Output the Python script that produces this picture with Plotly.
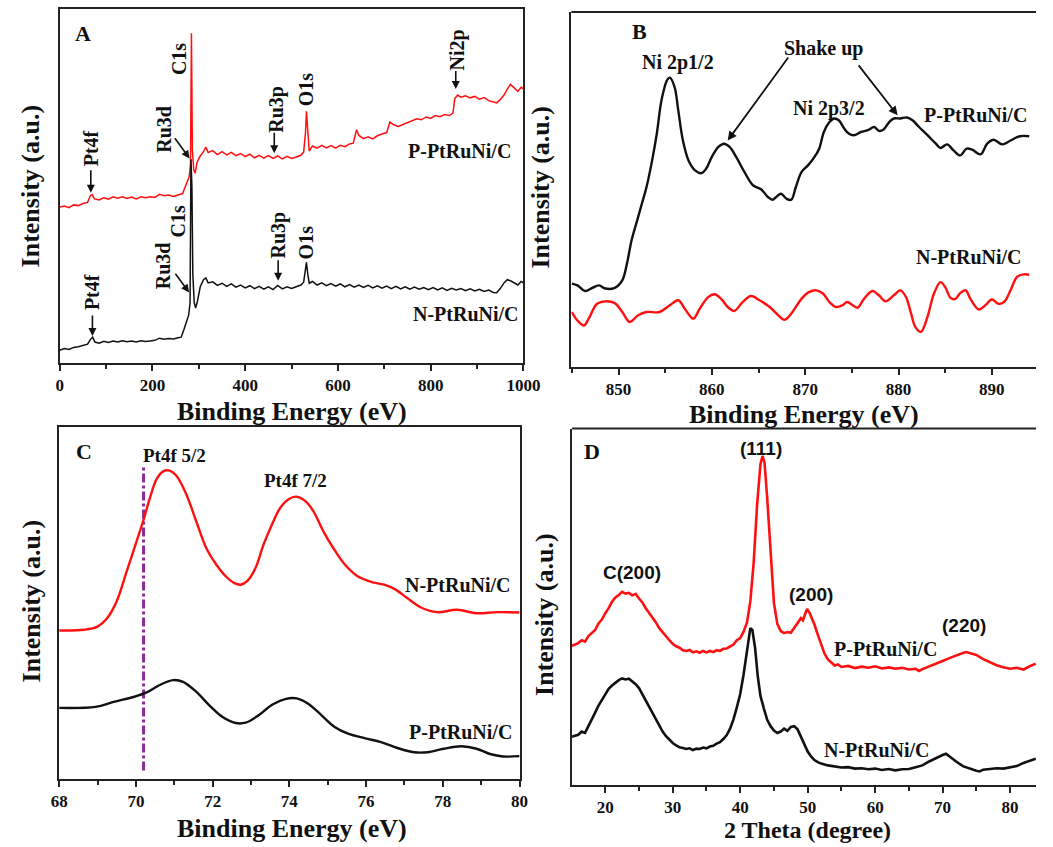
import plotly.graph_objects as go

# ---------------- Panel A : XPS survey ----------------
a_x_p = [0, 10, 20, 30, 40, 50, 60, 66, 70, 75, 85, 95, 105, 115, 125, 135, 145, 155, 165, 175, 185, 195,
         205, 215, 225, 235, 245, 255, 265, 270, 275, 279, 282, 284, 286, 289, 292, 296, 302, 310, 315, 320,
         330, 340, 350, 360, 370, 380, 390, 400, 410, 420, 430, 440, 450, 460, 470, 480, 490, 500, 510, 520,
         526, 530, 532, 535, 538, 545, 555, 565, 575, 585, 595, 605, 615, 625, 633, 640, 645, 655, 665, 675,
         685, 695, 705, 712, 720, 730, 740, 750, 760, 770, 780, 790, 800, 810, 820, 830, 840, 848, 852, 858,
         865, 875, 885, 895, 905, 915, 925, 935, 942, 950, 958, 965, 972, 980, 988, 995, 1000]
a_y_p = [44.0, 44.3, 43.8, 44.6, 44.4, 45.0, 45.3, 47.2, 47.5, 46.3, 46.0, 46.6, 46.2, 46.9, 46.5, 46.9, 46.4,
         46.8, 46.3, 46.9, 46.6, 46.9, 46.7, 47.6, 47.2, 47.4, 47.0, 47.5, 47.8, 49.5, 51.0, 52.5, 56.0, 93.0,
         60.0, 54.5, 53.5, 56.5, 58.2, 59.6, 60.9, 59.4, 59.9, 58.8, 59.6, 58.7, 59.4, 58.5, 59.1, 58.2, 58.9,
         57.9, 58.6, 57.8, 58.5, 57.7, 58.4, 57.6, 58.3, 57.7, 58.1, 58.6, 59.5, 65.0, 71.0, 64.0, 59.8, 61.2,
         60.6, 61.4, 60.7, 61.3, 60.6, 61.4, 61.0, 61.8, 62.0, 65.8, 64.2, 63.3, 63.8, 63.2, 64.1, 64.6, 65.0,
         68.0, 67.2, 66.7, 67.3, 67.8, 68.4, 68.9, 68.6, 69.4, 69.0, 69.8, 69.5, 70.1, 69.8, 70.5, 74.6, 75.6,
         75.0, 75.4, 74.8, 75.2, 74.4, 74.9, 74.0, 73.6, 73.4, 74.3, 75.6, 77.2, 78.6, 77.6, 76.6, 77.8, 77.3]
a_x_n = [0, 10, 20, 30, 40, 50, 60, 66, 71, 76, 85, 95, 105, 115, 125, 135, 145, 155, 165, 175, 185, 195,
         205, 215, 225, 235, 245, 255, 262, 268, 273, 278, 281, 283, 285, 287, 290, 293, 297, 303, 310, 315,
         320, 330, 340, 350, 360, 370, 380, 390, 400, 410, 420, 430, 440, 450, 460, 470, 480, 490, 500, 510,
         520, 526, 530, 532, 535, 538, 545, 555, 565, 575, 585, 595, 605, 615, 625, 635, 645, 655, 665, 675,
         685, 695, 705, 715, 725, 735, 745, 755, 765, 775, 785, 795, 805, 815, 825, 835, 845, 855, 865, 875,
         885, 895, 905, 915, 925, 935, 942, 950, 958, 965, 972, 980, 988, 995, 1000]
a_y_n = [3.6, 4.1, 3.8, 4.4, 4.6, 4.9, 5.3, 6.6, 7.3, 5.9, 5.6, 6.1, 5.8, 6.2, 5.9, 6.3, 6.0, 6.2, 5.9, 6.3,
         6.1, 6.2, 6.4, 7.0, 6.7, 6.9, 6.8, 7.1, 7.3, 9.5, 11.5, 13.5, 17.0, 57.5, 50.0, 25.0, 17.0, 15.5,
         17.5, 21.5, 23.5, 24.0, 22.6, 22.9, 21.9, 22.5, 21.6, 22.3, 21.4, 22.0, 21.2, 21.8, 21.0, 21.6, 20.8,
         21.5, 20.7, 21.9, 20.9, 21.5, 21.0, 21.6, 22.0, 22.8, 26.0, 28.4, 25.0, 22.5, 23.0, 22.0, 22.6, 21.8,
         22.4, 21.7, 22.3, 21.5, 22.1, 21.4, 22.0, 21.3, 21.9, 21.2, 21.8, 21.1, 21.7, 21.0, 21.6, 20.9, 21.5,
         20.8, 21.4, 20.8, 21.3, 20.7, 21.3, 20.6, 21.2, 20.5, 21.1, 20.6, 21.0, 20.4, 20.9, 20.3, 20.8, 20.2,
         20.6, 19.9, 19.8, 21.0, 22.6, 23.5, 23.2, 22.5, 22.0, 23.0, 22.6]

# ---------------- Panel B : Ni 2p ----------------
b_x_p = [845, 845.6, 846.4, 847.2, 847.9, 848.6, 849.6, 850.4, 850.9, 851.4, 852.0, 852.5, 853.0, 853.6,
         854.1, 854.6, 855.2, 855.5, 856.0, 856.4, 856.9, 857.5, 858.2, 858.9, 859.4, 860.0, 860.7, 861.3,
         861.9, 862.6, 863.5, 864.4, 865.3, 866.0, 866.5, 866.9, 867.4, 868.0, 868.5, 869.0, 869.6, 870.3,
         871.0, 871.5, 872.0, 872.6, 873.1, 873.6, 874.2, 874.7, 875.2, 876.0, 876.7, 877.4, 877.9, 878.4,
         879.0, 879.5, 880.2, 880.9, 881.5, 882.2, 883.1, 884.0, 884.5, 885.2, 885.9, 886.6, 887.3, 887.9,
         888.8, 889.5, 890.2, 891.1, 892.0, 893.0, 894.0]
b_y_p = [23.5, 23.0, 21.4, 22.3, 23.0, 22.1, 22.3, 24.4, 29.1, 35.7, 41.3, 46.0, 50.7, 58.2, 65.7, 75.1,
         80.8, 81.5, 78.9, 72.3, 63.8, 58.2, 55.4, 54.6, 55.9, 59.2, 62.0, 62.9, 62.0, 59.2, 54.9, 51.2, 50.0,
         47.9, 47.1, 47.9, 48.8, 47.4, 47.1, 50.7, 54.9, 56.8, 59.2, 61.5, 66.2, 69.0, 70.0, 69.5, 67.1, 65.7,
         65.3, 66.2, 66.7, 67.6, 66.5, 66.9, 69.0, 70.0, 70.0, 70.3, 69.5, 67.6, 65.3, 62.9, 61.7, 62.7, 61.0,
         59.6, 61.5, 61.2, 59.9, 62.9, 64.0, 62.7, 63.8, 65.0, 65.0]
b_x_n = [845, 845.6, 846.3, 846.8, 847.7, 848.6, 849.6, 850.4, 851.2, 852.1, 853.0, 854.4, 855.5, 856.4,
         857.1, 858.0, 858.7, 859.6, 860.3, 861.0, 861.7, 862.4, 863.3, 864.2, 865.1, 866.2, 867.1, 867.8,
         868.5, 869.6, 870.4, 871.2, 871.9, 872.6, 873.3, 874.0, 874.5, 875.1, 875.6, 876.3, 877.2, 877.9,
         878.6, 879.5, 880.2, 880.8, 881.3, 881.8, 882.4, 883.1, 883.8, 884.5, 885.0, 885.6, 886.1, 886.6,
         887.2, 887.7, 888.6, 889.3, 890.0, 890.7, 891.3, 892.0, 892.7, 893.4, 894.0]
b_y_n = [15.5, 13.1, 11.7, 13.6, 17.8, 18.5, 18.0, 15.5, 12.7, 14.6, 15.5, 15.5, 17.4, 18.8, 16.4, 13.6,
         16.4, 19.7, 20.5, 19.2, 16.9, 15.8, 18.3, 20.0, 18.8, 16.9, 14.6, 13.3, 15.0, 19.2, 21.1, 21.6, 20.7,
         18.3, 16.9, 17.4, 18.3, 17.4, 16.7, 19.2, 21.4, 20.2, 18.5, 20.2, 21.6, 19.7, 15.5, 11.3, 9.9, 14.1,
         20.7, 23.9, 22.5, 19.4, 19.2, 20.8, 21.6, 19.2, 16.2, 17.4, 19.0, 17.8, 18.3, 21.6, 25.4, 26.1, 26.0]

# ---------------- Panel C : Pt 4f ----------------
c_x_n = [68.0, 68.65, 69.0, 69.25, 69.5, 69.76, 70.02, 70.19, 70.37, 70.54, 70.71, 70.88, 71.05, 71.31,
         71.57, 71.83, 72.09, 72.34, 72.56, 72.73, 72.9, 73.12, 73.33, 73.55, 73.76, 73.98, 74.19, 74.41,
         74.62, 74.88, 75.14, 75.44, 75.78, 76.13, 76.47, 76.77, 77.07, 77.42, 77.85, 78.37, 78.88, 79.4, 80.0]
c_y_n = [42.2, 42.4, 43.3, 45.7, 50.5, 59.0, 67.6, 73.3, 80.0, 85.2, 87.4, 87.6, 86.2, 81.0, 73.3, 65.7,
         61.0, 57.6, 55.7, 55.2, 56.2, 60.0, 66.7, 72.4, 77.0, 79.5, 80.2, 79.0, 76.2, 70.5, 65.7, 61.0, 57.6,
         56.0, 55.2, 53.8, 51.4, 48.8, 47.4, 48.1, 47.1, 47.4, 47.3]
c_x_p = [68.0, 68.95, 69.42, 69.94, 70.28, 70.62, 70.97, 71.23, 71.57, 71.91, 72.26, 72.6, 72.86, 73.2,
         73.55, 73.89, 74.19, 74.49, 74.84, 75.18, 75.53, 75.96, 76.39, 76.82, 77.25, 77.6, 78.02, 78.49,
         78.88, 79.23, 79.57, 80.0]
c_y_p = [20.2, 20.5, 21.9, 23.3, 24.6, 26.7, 28.1, 27.6, 24.8, 21.0, 17.6, 15.9, 16.0, 18.1, 21.1, 22.7,
         22.9, 21.4, 18.1, 14.8, 12.9, 11.6, 10.5, 8.8, 7.6, 7.6, 8.6, 9.3, 8.6, 7.1, 6.4, 6.5]
c_ref_ev = 70.2
c_ref_span = [2.4, 89.0]

# ---------------- Panel D : XRD ----------------
d_x_p = [15, 16, 16.5, 17, 17.5, 18, 18.5, 19, 19.5, 20, 20.5, 21, 21.5, 22, 22.5, 23, 23.5, 24, 24.5, 25,
         25.5, 26, 26.5, 27, 27.5, 28, 28.5, 29, 29.5, 30, 30.5, 31, 31.5, 32, 32.5, 33, 33.5, 34, 34.5, 35,
         35.5, 36, 36.5, 37, 37.5, 38, 38.5, 39, 39.5, 40, 40.5, 41, 41.5, 42, 42.5, 43, 43.3, 43.6, 44, 44.5,
         45, 45.5, 46, 46.5, 47, 47.5, 48, 48.5, 49, 49.3, 49.6, 49.9, 50.3, 50.7, 51, 51.5, 52, 52.5, 53,
         53.5, 54, 54.5, 55, 56, 57, 58, 59, 60, 61, 62, 63, 64, 65, 66, 66.5, 67, 68, 69, 70, 71, 72, 73,
         73.5, 74, 75, 76, 77, 78, 79, 80, 81, 82, 83, 83.8]
d_y_p = [39.0, 39.8, 40.6, 40.2, 41.8, 42.6, 43.5, 45.3, 46.4, 48.2, 49.6, 51.4, 52.6, 53.3, 54.2, 53.7,
         53.9, 53.2, 53.6, 52.3, 51.2, 49.6, 48.3, 47.0, 45.6, 44.0, 42.8, 41.5, 40.6, 39.6, 38.9, 38.5, 37.8,
         37.6, 37.9, 37.2, 37.5, 37.1, 37.6, 37.2, 37.6, 37.3, 37.8, 37.6, 38.2, 38.3, 38.9, 39.4, 40.6, 41.2,
         43.0, 45.5, 51.5, 62.5, 78.5, 90.0, 92.3, 90.5, 80.5, 64.5, 51.0, 45.2, 43.2, 42.6, 42.9, 42.7, 44.0,
         45.4, 46.8, 46.2, 48.0, 49.4, 48.2, 46.6, 45.0, 42.2, 39.3, 36.8, 35.2, 34.3, 33.5, 33.8, 33.1, 33.4,
         32.8, 33.2, 32.9, 33.3, 32.7, 33.0, 32.6, 32.9, 32.4, 32.6, 32.0, 32.5, 33.2, 34.0, 34.8, 35.6, 36.4,
         37.0, 37.3, 37.0, 36.5, 35.3, 34.4, 33.6, 33.0, 32.6, 32.9, 32.4, 33.4, 34.0]
d_x_n = [15, 16, 16.5, 17, 17.5, 18, 18.5, 19, 19.5, 20, 20.5, 21, 21.5, 22, 22.5, 23, 23.5, 24, 24.5, 25,
         25.5, 26, 26.5, 27, 27.5, 28, 28.5, 29, 29.5, 30, 30.5, 31, 31.5, 32, 32.5, 33, 33.5, 34, 34.5, 35,
         35.5, 36, 36.5, 37, 37.5, 38, 38.5, 39, 39.5, 40, 40.5, 41, 41.5, 41.8, 42.2, 42.6, 43, 43.5, 44,
         44.5, 45, 45.5, 46, 46.5, 47, 47.5, 48, 48.5, 49, 49.5, 50, 50.5, 51, 51.5, 52, 53, 54, 55, 56, 57,
         58, 59, 60, 61, 62, 63, 64, 65, 66, 67, 68, 69, 70, 70.5, 71, 72, 73, 74, 75, 75.5, 76, 77, 78, 79,
         80, 81, 82, 83, 83.8]
d_y_n = [13.5, 14.1, 15.0, 14.6, 16.5, 18.2, 20.3, 22.3, 24.0, 25.6, 27.0, 27.9, 28.7, 29.4, 29.9, 29.6,
         29.8, 29.0, 28.3, 27.2, 25.4, 23.8, 22.0, 20.1, 18.2, 16.5, 15.0, 13.7, 12.6, 11.8, 11.1, 10.6, 10.4,
         10.1, 10.3, 9.8, 10.2, 10.1, 10.5, 10.3, 10.8, 11.0, 11.6, 12.0, 12.9, 14.0, 15.8, 18.4, 21.8, 25.5,
         31.0, 38.0, 44.0, 43.5, 38.5, 30.5, 25.0, 21.5, 18.3, 16.5, 15.3, 14.6, 15.0, 15.8, 15.2, 16.3, 16.5,
         15.6, 13.6, 11.2, 9.4, 8.0, 7.0, 6.4, 6.0, 5.5, 5.2, 4.9, 5.0, 4.6, 4.7, 4.4, 4.6, 4.2, 4.5, 4.1, 4.4,
         4.5, 5.0, 5.5, 6.6, 7.6, 8.4, 8.8, 8.0, 6.6, 5.3, 4.6, 4.0, 3.8, 4.3, 4.5, 4.7, 4.6, 5.0, 5.3, 6.2,
         6.9, 7.4]

RED = "#ff1010"
BLK = "#111111"
SERIF = "Liberation Serif, Times New Roman, serif"
SANS = "Liberation Sans, Arial, sans-serif"

fig = go.Figure()


def line(x, y, ax, color, width, shape="linear", dash="solid"):
    fig.add_trace(go.Scatter(x=x, y=y, xaxis="x" + ax, yaxis="y" + ax, mode="lines",
                             line=dict(color=color, width=width, shape=shape, dash=dash),
                             hoverinfo="skip"))


line(a_x_p, a_y_p, "", RED, 1.5)
line(a_x_n, a_y_n, "", BLK, 1.5)
line(b_x_p, b_y_p, "2", BLK, 2.4, "spline")
line(b_x_n, b_y_n, "2", RED, 2.4, "spline")
line([c_ref_ev, c_ref_ev], c_ref_span, "3", "#8a2a9c", 3, dash="dashdot")
line(c_x_n, c_y_n, "3", RED, 2.4, "spline")
line(c_x_p, c_y_p, "3", BLK, 2.4, "spline")
line(d_x_p, d_y_p, "4", RED, 2.6)
line(d_x_n, d_y_n, "4", BLK, 2.6)

W, H = 1053, 847


def xd(a, b):
    return [a / W, b / W]


def yd(top, bot):
    return [1 - bot / H, 1 - top / H]


tickfont = dict(family=SERIF, size=17, color="#111", weight="bold")


def xaxis(dom, rng, dtick, mdtick, anchor, mirror):
    return dict(domain=dom, range=rng, anchor=anchor, showline=True, linecolor="#222", linewidth=2,
                mirror=mirror, ticks="outside", ticklen=6, tickwidth=2, tickcolor="#222", dtick=dtick,
                tickfont=tickfont, showgrid=False, zeroline=False,
                minor=dict(ticks="outside", ticklen=4, tickwidth=1.5, tickcolor="#222", dtick=mdtick,
                           showgrid=False))


def yaxis(dom, anchor, mirror):
    return dict(domain=dom, range=[0, 100], anchor=anchor, showline=True, linecolor="#222", linewidth=2,
                mirror=mirror, ticks="", showticklabels=False, showgrid=False, zeroline=False)


layout = dict(
    width=W, height=H, margin=dict(l=0, r=0, t=0, b=0), paper_bgcolor="white", plot_bgcolor="white",
    showlegend=False,
    xaxis=xaxis(xd(53, 528), [0, 1000], 200, 100, "y", True),
    yaxis=yaxis(yd(8.5, 363), "x", True),
    xaxis2=xaxis(xd(577, 1053), [844.94, 894.73], 10, 5, "y2", False),
    yaxis2=yaxis(yd(12, 367), "x2", False),
    xaxis3=xaxis(xd(52.4, 524), [68, 80], 2, 1, "y3", True),
    yaxis3=yaxis(yd(427, 779), "x3", True),
    xaxis4=xaxis(xd(577.8, 1053), [15.08, 83.84], 10, 5, "y4", False),
    yaxis4=yaxis(yd(428.5, 785), "x4", False),
)
fig.update_layout(**layout)

# top frame lines for B and D (right side runs off the page)
for (x0, ytop) in [(577, 12), (577.8, 428.5)]:
    fig.add_shape(type="line", xref="paper", yref="paper", x0=x0 / W, x1=1, y0=1 - ytop / H,
                  y1=1 - ytop / H, line=dict(color="#222", width=2))

ann = []


def txt(ax, x, y, s, size=20, angle=0, fam=SERIF):
    ann.append(dict(xref="x" + ax, yref="y" + ax, x=x, y=y, text="<b>" + s + "</b>", showarrow=False,
                    textangle=angle, font=dict(family=fam, size=size, color="#111"),
                    xanchor="center", yanchor="middle"))


def arrow(ax, x0, y0, x1, y1, w=1.6, head=1.0):
    ann.append(dict(xref="x" + ax, yref="y" + ax, axref="x" + ax, ayref="y" + ax, x=x1, y=y1, ax=x0, ay=y0,
                    text="", showarrow=True, arrowhead=2, arrowsize=head, arrowwidth=w, arrowcolor="#111"))


def paper_txt(px, py, s, size=26, angle=0):
    ann.append(dict(xref="paper", yref="paper", x=px / W, y=1 - py / H, text="<b>" + s + "</b>",
                    showarrow=False, textangle=angle, font=dict(family=SERIF, size=size, color="#111"),
                    xanchor="center", yanchor="middle"))


# Panel A
txt("", 51, 92.9, "A", 22)
txt("", 67, 60.5, "Pt4f", 20, -90)
arrow("", 67, 54.8, 67, 48.0)
txt("", 225.6, 65.9, "Ru3d", 20, -90)
arrow("", 246, 63.8, 280, 57.7)
txt("", 257.7, 85.8, "C1s", 20, -90)
txt("", 467.6, 71.6, "Ru3p", 20, -90)
arrow("", 462.6, 65.4, 462.6, 59.2)
txt("", 531.7, 77.3, "O1s", 20, -90)
txt("", 857, 88.2, "Ni2p", 20, -90)
arrow("", 854, 82.8, 854, 77.3)
txt("", 862.6, 59.7, "P-PtRuNi/C", 20)
txt("", 71, 19.9, "Pt4f", 20, -90)
arrow("", 70.5, 13.8, 70.5, 7.6)
txt("", 222, 27.5, "Ru3d", 20, -90)
arrow("", 247, 25.6, 279, 19.9)
txt("", 254, 39.8, "C1s", 20, -90)
txt("", 471, 36.0, "Ru3p", 20, -90)
arrow("", 471, 29.4, 471, 23.2)
txt("", 531.7, 34.1, "O1s", 20, -90)
txt("", 877, 13.7, "N-PtRuNi/C", 20)

# Panel B
txt("2", 852.2, 94.4, "B", 22)
txt("2", 856.4, 85.9, "Ni 2p1/2", 20)
txt("2", 872, 89.7, "Shake up", 20)
txt("2", 872.6, 72.8, "Ni 2p3/2", 20)
txt("2", 888.2, 70.9, "P-PtRuNi/C", 20)
txt("2", 887.5, 31.0, "N-PtRuNi/C", 20)
arrow("2", 868.3, 87.6, 861.7, 63.8, 1.8)
arrow("2", 875.6, 85.4, 879.9, 70.9, 1.8)

# Panel C
txt("3", 68.65, 92.9, "C", 22)
txt("3", 71.01, 91.9, "Pt4f 5/2", 19)
txt("3", 74.15, 84.8, "Pt4f 7/2", 19)
txt("3", 78.4, 55.2, "N-PtRuNi/C", 20)
txt("3", 78.45, 13.3, "P-PtRuNi/C", 20)

# Panel D
txt("4", 18.0, 93.5, "D", 22)
txt("4", 43.1, 94.4, "(111)", 19, fam=SANS)
txt("4", 23.9, 59.5, "C(200)", 19, fam=SANS)
txt("4", 50.5, 53.5, "(200)", 19, fam=SANS)
txt("4", 73.1, 44.7, "(220)", 19, fam=SANS)
txt("4", 61.6, 38.1, "P-PtRuNi/C", 20)
txt("4", 60.3, 9.8, "N-PtRuNi/C", 20)

# Axis titles
paper_txt(291, 411, "Binding Energy (eV)")
paper_txt(815, 414, "Binding Energy (eV)")
paper_txt(291, 828, "Binding Energy (eV)")
paper_txt(819, 830, "2 Theta (degree)", size=24)
paper_txt(24, 186, "Intensity (a.u.)", angle=-90)
paper_txt(545.5, 187, "Intensity (a.u.)", angle=-90)
paper_txt(24, 601, "Intensity (a.u.)", angle=-90)
paper_txt(549, 614, "Intensity (a.u.)", angle=-90)

fig.update_layout(annotations=ann)
fig.write_html("out.html")
